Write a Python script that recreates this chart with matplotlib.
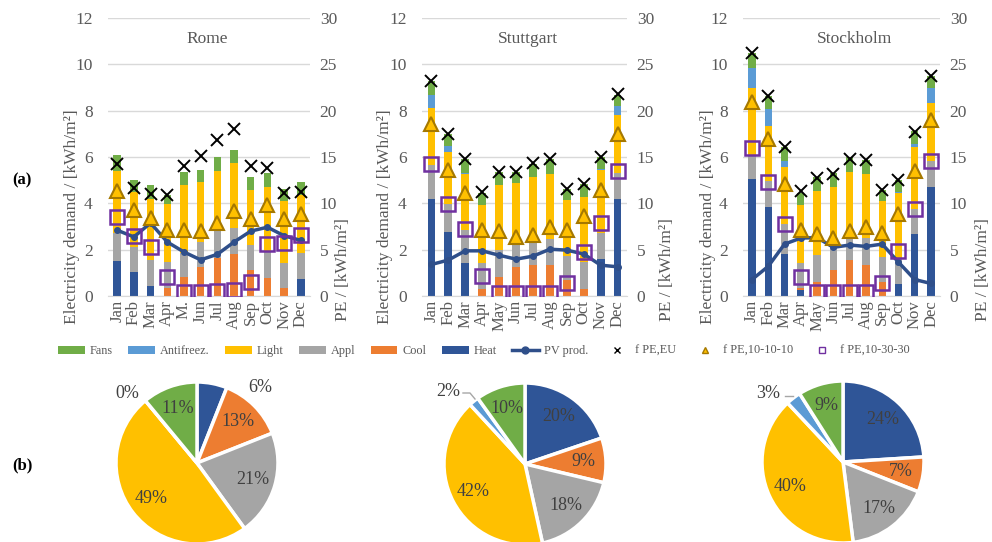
import matplotlib
matplotlib.use('Agg')
import matplotlib.pyplot as plt
from matplotlib.patches import Patch
from matplotlib.lines import Line2D
import numpy as np

plt.rcParams['font.family'] = ['Liberation Serif', 'DejaVu Serif']

# datos
meses = ['Jan', 'Feb', 'Mar', 'Apr', 'May', 'Jun', 'Jul', 'Aug', 'Sep', 'Oct', 'Nov', 'Dec']
meses_rome = ['Jan', 'Feb', 'Mar', 'Apr', 'M.', 'Jun', 'Jul', 'Aug', 'Sep', 'Oct', 'Nov', 'Dec']
ciudades = ['Rome', 'Stuttgart', 'Stockholm']
componentes = ['Heat', 'Cool', 'Appl', 'Light', 'Antifreez.', 'Fans']

# Rome [kWh/m2]
rome_heat = [1.51, 1.05, 0.42, 0, 0, 0, 0, 0, 0, 0, 0, 0.72]
rome_cool = [0, 0, 0, 0.36, 0.81, 1.27, 1.66, 1.80, 1.11, 0.79, 0.33, 0]
rome_appl = [1.19, 1.05, 1.14, 1.09, 1.05, 1.08, 1.15, 1.15, 1.08, 1.15, 1.11, 1.12]
rome_light = [2.70, 2.37, 2.64, 2.51, 2.94, 2.55, 2.59, 2.81, 2.38, 2.75, 2.66, 2.51]
rome_anti = [0] * 12
rome_fans = [0.68, 0.54, 0.58, 0.39, 0.57, 0.55, 0.60, 0.55, 0.55, 0.61, 0.50, 0.55]
rome_pv = [2.84, 2.55, 3.15, 2.33, 1.90, 1.56, 1.80, 2.33, 2.80, 2.97, 2.60, 2.40]
rome_pe_eu = [14.2, 11.7, 11.0, 10.9, 14.0, 15.1, 16.8, 18.0, 14.05, 13.8, 11.1, 11.2]
rome_pe_10 = [11.3, 9.3, 8.4, 7.1, 7.1, 7.0, 7.9, 9.2, 8.3, 9.8, 8.3, 8.9]
rome_pe_30 = [8.5, 6.5, 5.3, 2.05, 0.45, 0.45, 0.55, 0.6, 1.55, 5.6, 5.75, 6.6]

# Stuttgart
stu_heat = [4.18, 2.77, 1.43, 0, 0, 0, 0, 0, 0, 0, 1.61, 4.18]
stu_cool = [0, 0, 0, 0.32, 0.83, 1.26, 1.33, 1.33, 0.69, 0.32, 0, 0]
stu_appl = [1.47, 1.22, 1.41, 1.09, 1.17, 1.01, 1.08, 1.15, 1.03, 1.16, 1.13, 1.13]
stu_light = [2.47, 2.22, 2.41, 2.51, 2.78, 2.61, 2.73, 2.80, 2.44, 2.80, 2.68, 2.52]
stu_anti = [0.56, 0.26, 0.07, 0, 0, 0, 0, 0, 0, 0, 0.05, 0.39]
stu_fans = [0.62, 0.53, 0.58, 0.53, 0.57, 0.47, 0.57, 0.62, 0.47, 0.57, 0.53, 0.46]
stu_pv = [1.36, 1.55, 1.95, 1.95, 1.76, 1.59, 1.72, 2.02, 1.98, 1.81, 1.33, 1.26]
stu_pe_eu = [23.25, 17.5, 14.75, 11.2, 13.4, 13.4, 14.3, 14.75, 11.6, 12.1, 15.0, 21.8]
stu_pe_10 = [18.6, 13.6, 11.1, 7.1, 7.0, 6.4, 6.6, 7.45, 7.1, 8.6, 11.4, 17.5]
stu_pe_30 = [14.2, 9.9, 7.2, 2.15, 0.3, 0.3, 0.3, 0.3, 1.45, 4.7, 7.9, 13.5]

# Stockholm
sto_heat = [5.04, 3.84, 1.82, 0.28, 0, 0, 0, 0, 0, 0.51, 2.67, 4.70]
sto_cool = [0, 0, 0, 0.05, 0.61, 1.11, 1.56, 1.32, 0.61, 0, 0, 0]
sto_appl = [1.06, 1.12, 1.27, 1.10, 1.16, 1.16, 1.11, 1.18, 1.06, 1.09, 1.10, 1.13]
sto_light = [2.88, 2.36, 2.48, 2.51, 2.77, 2.45, 2.69, 2.76, 2.42, 2.84, 2.68, 2.51]
sto_anti = [0.88, 0.77, 0.25, 0, 0, 0, 0, 0, 0, 0.05, 0.12, 0.64]
sto_fans = [0.61, 0.53, 0.61, 0.50, 0.61, 0.57, 0.64, 0.60, 0.49, 0.51, 0.56, 0.50]
sto_pv = [0.71, 1.28, 2.24, 2.50, 2.52, 2.10, 2.20, 2.14, 2.24, 1.46, 0.71, 0.54]
sto_pe_eu = [26.2, 21.55, 16.1, 11.3, 12.75, 13.2, 14.8, 14.65, 11.45, 12.5, 17.75, 23.75]
sto_pe_10 = [20.9, 16.9, 12.1, 7.1, 6.7, 6.3, 7.0, 7.45, 6.85, 8.9, 13.5, 19.0]
sto_pe_30 = [15.95, 12.3, 7.8, 2.1, 0.45, 0.45, 0.45, 0.45, 1.45, 4.9, 9.4, 14.6]

# porcentajes anuales (Heat, Cool, Appl, Light, Antifreez., Fans)
pie_rome = [6, 13, 21, 49, 0, 11]
pie_stu = [20, 9, 18, 42, 2, 10]
pie_sto = [24, 7, 17, 40, 3, 9]

colores = {'Heat': '#2f5597', 'Cool': '#ed7d31', 'Appl': '#a5a5a5',
           'Light': '#ffc000', 'Antifreez.': '#5b9bd5', 'Fans': '#70ad47'}
gris = '#595959'

datos = {
    'Rome': [rome_heat, rome_cool, rome_appl, rome_light, rome_anti, rome_fans,
             rome_pv, rome_pe_eu, rome_pe_10, rome_pe_30, meses_rome, pie_rome],
    'Stuttgart': [stu_heat, stu_cool, stu_appl, stu_light, stu_anti, stu_fans,
                  stu_pv, stu_pe_eu, stu_pe_10, stu_pe_30, meses, pie_stu],
    'Stockholm': [sto_heat, sto_cool, sto_appl, sto_light, sto_anti, sto_fans,
                  sto_pv, sto_pe_eu, sto_pe_10, sto_pe_30, meses, pie_sto],
}

W, H = 992, 542
fig = plt.figure(figsize=(W / 100, H / 100), dpi=100)

def px(x0, y0, x1, y1):
    return [x0 / W, 1 - y1 / H, (x1 - x0) / W, (y1 - y0) / H]

# posiciones en pixeles
ejes_px = {'Rome': (108, 310), 'Stuttgart': (422, 627), 'Stockholm': (743, 940)}
titulo_x = {'Rome': 207, 'Stuttgart': 528, 'Stockholm': 855}
ylab_x = {'Rome': 72, 'Stuttgart': 385, 'Stockholm': 708}
pelab_x = {'Rome': 343, 'Stuttgart': 667, 'Stockholm': 983}
pie_c = {'Rome': (197, 463), 'Stuttgart': (525, 464), 'Stockholm': (843, 462)}

for ciudad in ciudades:
    d = datos[ciudad]
    x0, x1 = ejes_px[ciudad]
    ax = fig.add_axes(px(x0, 18, x1, 296))
    ax2 = ax.twinx()
    x = np.arange(12)
    abajo = np.zeros(12)
    for i, comp in enumerate(componentes):
        vals = np.array(d[i])
        ax.bar(x, vals, 0.45, bottom=abajo, color=colores[comp], zorder=2)
        abajo += vals
    ax.plot(x, d[6], color='#2f4f8a', lw=2.5, marker='o', ms=4, zorder=3)
    ax2.plot(x, d[7], ls='none', marker='x', color='black', ms=9, mew=1.4)
    ax2.plot(x, d[8], ls='none', marker='^', mfc='#ffc000', mec='#a57800', ms=10.5, mew=1.5)
    ax2.plot(x, d[9], ls='none', marker='s', mfc='none', mec='#7030a0', ms=10, mew=1.8)

    ax.set_xlim(-0.55, 11.55)
    ax.set_ylim(0, 12)
    ax2.set_ylim(0, 30)
    ax.set_yticks(range(0, 13, 2))
    ax2.set_yticks(range(0, 31, 5))
    ax.set_xticks(x)
    ax.set_xticklabels(d[10], rotation=90)
    ax.yaxis.grid(True, color='#d9d9d9', lw=1)
    ax.set_axisbelow(True)
    for a in (ax, ax2):
        for s in a.spines.values():
            s.set_visible(False)
    ax.spines['bottom'].set_visible(True)
    ax.spines['bottom'].set_color('#d9d9d9')
    ax.tick_params(axis='y', length=0, pad=11, labelsize=12.5, labelcolor=gris)
    ax.tick_params(axis='x', length=0, pad=3, labelsize=12, labelcolor=gris)
    ax2.tick_params(axis='y', length=0, pad=7, labelsize=12.5, labelcolor=gris)

    fig.text(titulo_x[ciudad] / W, 1 - 39 / H, ciudad, ha='center', va='center',
             fontsize=12.5, color=gris)
    fig.text(ylab_x[ciudad] / W, 1 - 217 / H, 'Electricity demand / [kWh/m²]',
             rotation=90, ha='center', va='center', fontsize=12.5, color=gris)
    fig.text(pelab_x[ciudad] / W, 1 - 270 / H, 'PE / [kWh/m²]',
             rotation=90, ha='center', va='center', fontsize=12.5, color=gris)

    # tarta
    cx, cy = pie_c[ciudad]
    r = 81
    m = 95
    axp = fig.add_axes(px(cx - m, cy - m, cx + m, cy + m))
    lim = m / r
    pct = d[11]
    wedges, _ = axp.pie(pct, colors=[colores[c] for c in componentes], startangle=90,
                        counterclock=False,
                        wedgeprops=dict(edgecolor='white', linewidth=2.5))
    axp.set_xlim(-lim, lim)
    axp.set_ylim(-lim, lim)
    axp.set_aspect('equal')
    axp.axis('off')
    for w, p in zip(wedges, pct):
        w.set_clip_on(False)
        ang = np.deg2rad((w.theta1 + w.theta2) / 2)
        if p >= 7:
            axp.text(0.72 * np.cos(ang), 0.72 * np.sin(ang), f'{p}%', ha='center',
                     va='center', fontsize=13, color='#404040')

# etiquetas fuera de la tarta
fig.text(260 / W, 1 - 388 / H, '6%', ha='center', va='center', fontsize=13, color='#404040')
fig.text(127 / W, 1 - 393 / H, '0%', ha='center', va='center', fontsize=13, color='#404040')
fig.text(448 / W, 1 - 392 / H, '2%', ha='center', va='center', fontsize=13, color='#404040')
fig.text(768 / W, 1 - 393 / H, '3%', ha='center', va='center', fontsize=13, color='#404040')
fig.add_artist(Line2D([463 / W, 470 / W, 475 / W], [1 - 393 / H, 1 - 393 / H, 1 - 399 / H],
                      color='#a6a6a6', lw=1))
fig.add_artist(Line2D([785 / W, 793 / W], [1 - 396 / H, 1 - 396 / H], color='#a6a6a6', lw=1))

fig.text(22 / W, 1 - 180 / H, '(a)', ha='center', va='center', fontsize=12, fontweight='bold')
fig.text(22 / W, 1 - 465 / H, '(b)', ha='center', va='center', fontsize=12, fontweight='bold')

# leyenda
orden = ['Fans', 'Antifreez.', 'Light', 'Appl', 'Cool', 'Heat']
handles = [Patch(facecolor=colores[c]) for c in orden]
handles.append(Line2D([], [], color='#2f4f8a', lw=2.5, marker='o', ms=5))
handles.append(Line2D([], [], ls='none', marker='x', color='black', ms=4))
handles.append(Line2D([], [], ls='none', marker='^', mfc='#ffc000', mec='#a57800', ms=5))
handles.append(Line2D([], [], ls='none', marker='s', mfc='none', mec='#7030a0', ms=5))
etiquetas = orden + ['PV prod.', 'f PE,EU', 'f PE,10-10-10', 'f PE,10-30-30']
fig.legend(handles, etiquetas, loc='center', bbox_to_anchor=(484 / W, 1 - 351 / H), ncol=10,
           frameon=False, fontsize=8.8, labelcolor=gris, handlelength=2.2, handleheight=0.6,
           columnspacing=1.25, handletextpad=0.4)

fig.savefig('out.png', dpi=100)
